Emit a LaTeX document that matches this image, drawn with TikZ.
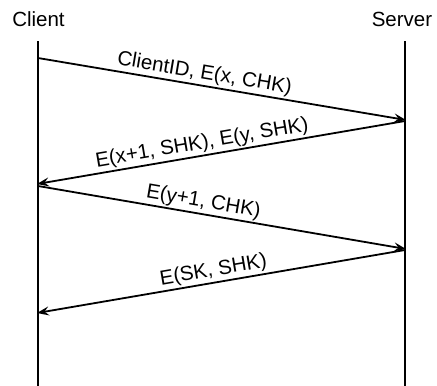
\documentclass[tikz,border=0pt]{standalone}
\usepackage{fontspec}
\setmainfont{Liberation Sans}
\usetikzlibrary{arrows.meta}
\begin{document}
\begin{tikzpicture}[x=1pt,y=-1pt,
  party/.style={font=\fontsize{20.5}{24}\selectfont, anchor=base, inner sep=0pt},
  lifeline/.style={line width=2pt},
  msg/.style={line width=1.8pt, -{Stealth[length=12pt,width=9pt,inset=4.5pt]}},
  msglabel/.style={font=\fontsize{20.5}{24}\selectfont, sloped, above, inner sep=1.5pt}]
  \useasboundingbox (0,0) rectangle (437,386);
  % participants
  \node[party] (client) at (38.5,26.7) {Client};
  \node[party] (server) at (402,26.7) {Server};
  % lifelines
  \coordinate (ctop) at (38,41);
  \coordinate (cbot) at (38,386);
  \coordinate (stop) at (405,41);
  \coordinate (sbot) at (405,386);
  \draw[lifeline] (ctop) -- (cbot);
  \draw[lifeline] (stop) -- (sbot);
  % message end points
  \coordinate (c1) at (38,58);
  \coordinate (s1) at (406,120);
  \coordinate (s2) at (405,121);
  \coordinate (c2) at (37,184);
  \coordinate (c3) at (38,186);
  \coordinate (s3) at (406,249);
  \coordinate (s4) at (405,250);
  \coordinate (c4) at (37,313);
  % messages
  \draw[msg] (c1) -- node[msglabel, pos=0.447] (m1) {ClientID, E(x, CHK)} (s1);
  \draw[msg] (s2) -- node[msglabel, pos=0.546] (m2) {E(x+1, SHK), E(y, SHK)} (c2);
  \draw[msg] (c3) -- node[msglabel, pos=0.444] (m3) {E(y+1, CHK)} (s3);
  \draw[msg] (s4) -- node[msglabel, pos=0.515] (m4) {E(SK, SHK)} (c4);
\end{tikzpicture}
\end{document}
